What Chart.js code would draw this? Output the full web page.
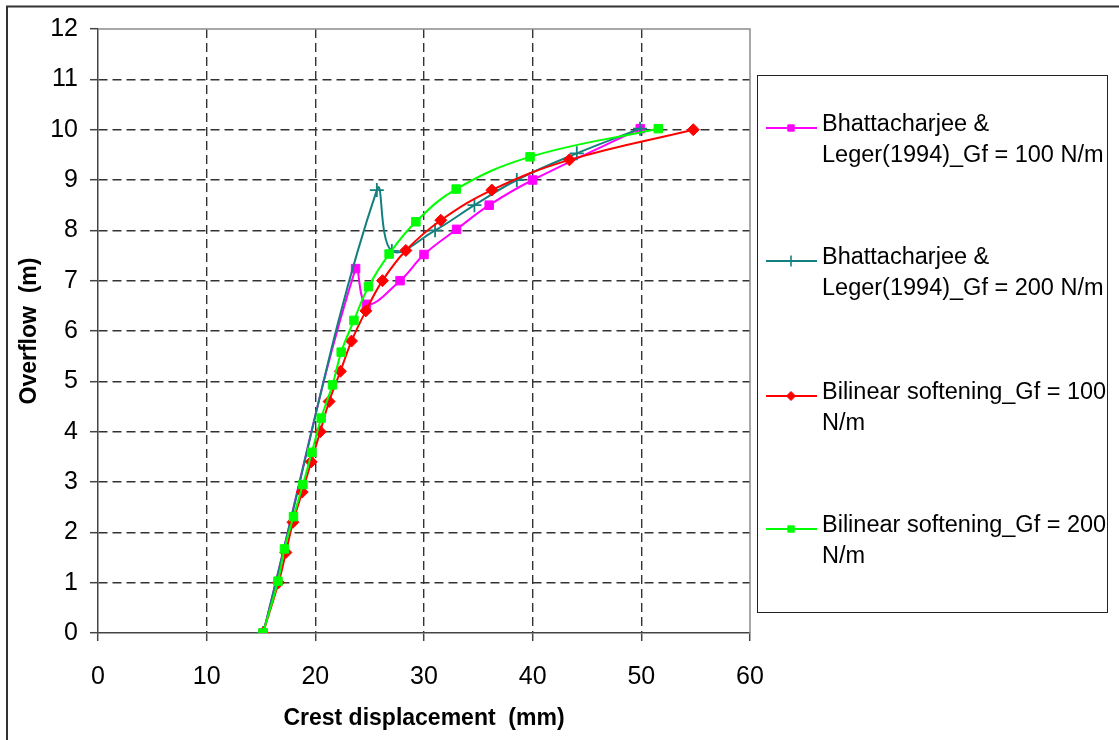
<!DOCTYPE html>
<html>
<head>
<meta charset="utf-8">
<script src="https://cdn.jsdelivr.net/npm/chart.js@4/dist/chart.umd.min.js"></script>
<style>
  html, body { margin: 0; padding: 0; background: #fff; }
  #wrap { width: 1119px; height: 740px; position: relative; }
</style>
</head>
<body>
<div id="wrap"><canvas id="c" width="1119" height="740"></canvas></div>
<script>
// ---- Data ----
const xTicks = [0, 10, 20, 30, 40, 50, 60];
const yTicks = [0, 1, 2, 3, 4, 5, 6, 7, 8, 9, 10, 11, 12];

const seriesLabels = [
  "Bhattacharjee &\nLeger(1994)_Gf = 100 N/m",
  "Bhattacharjee &\nLeger(1994)_Gf = 200 N/m",
  "Bilinear softening_Gf = 100\nN/m",
  "Bilinear softening_Gf = 200\nN/m"
];

const bh100X = [15.2, 23.7, 24.7, 27.8, 30.0, 33.0, 36.0, 40.0, 49.9];
const bh100Y = [0, 7.24, 6.53, 7.0, 7.52, 8.02, 8.5, 9.0, 10.02];

const bh200X = [15.2, 25.66, 27.04, 31.02, 34.64, 38.54, 44.06, 49.88];
const bh200Y = [0, 8.8, 7.59, 8.0, 8.5, 9.0, 9.53, 10.02];

const bil100X = [15.18, 16.61, 17.29, 17.94, 18.79, 19.62, 20.45, 21.27, 22.31, 23.33, 24.65, 26.18, 28.33, 31.55, 36.24, 43.38, 54.78];
const bil100Y = [0, 1.0, 1.6, 2.2, 2.8, 3.4, 4.0, 4.6, 5.2, 5.8, 6.4, 7.0, 7.6, 8.2, 8.8, 9.4, 10.0];

const bil200X = [15.18, 16.56, 17.16, 17.99, 18.86, 19.68, 20.54, 21.58, 22.38, 23.55, 24.89, 26.79, 29.25, 32.96, 39.76, 51.56];
const bil200Y = [0, 1.03, 1.67, 2.31, 2.95, 3.59, 4.27, 4.93, 5.58, 6.21, 6.88, 7.53, 8.17, 8.82, 9.46, 10.02];

const xTitle = "Crest displacement  (mm)";
const yTitle = "Overflow  (m)";

// ---- Build ----
const pts = (xs, ys) => xs.map((x, i) => ({ x: x, y: ys[i] }));
const FONT = "'Liberation Sans', Arial, 'DejaVu Sans', sans-serif";

const styles = [
  { color: '#FF00FF', pointStyle: 'rect', radius: 6, order: 4, lsRadius: 4.5 },
  { color: '#13807F', pointStyle: 'cross', radius: 7, order: 3, lsRadius: 5.5 },
  { color: '#FF0000', pointStyle: 'rectRot', radius: 6, order: 2, lsRadius: 4.5 },
  { color: '#00FF00', pointStyle: 'rect', radius: 6, order: 1, lsRadius: 4.5 }
];
const seriesData = [pts(bh100X, bh100Y), pts(bh200X, bh200Y), pts(bil100X, bil100Y), pts(bil200X, bil200Y)];

const datasets = seriesData.map((d, i) => ({
  label: seriesLabels[i],
  data: d,
  showLine: true,
  borderColor: styles[i].color,
  backgroundColor: styles[i].color,
  borderWidth: 2,
  tension: 0.4,
  pointStyle: styles[i].pointStyle,
  pointRadius: styles[i].radius,
  pointBorderWidth: i === 1 ? 1.8 : 1,
  pointBorderColor: styles[i].color,
  pointBackgroundColor: styles[i].color,
  order: styles[i].order,
  fill: false
}));

const bgPlugin = {
  id: 'bg',
  beforeDraw(chart) {
    const ctx = chart.ctx;
    ctx.save();
    ctx.fillStyle = '#fff';
    ctx.fillRect(0, 0, chart.width, chart.height);
    ctx.restore();
  },
  afterDraw(chart) {
    const ctx = chart.ctx;
    const a = chart.chartArea;
    ctx.save();
    ctx.setLineDash([]);
    // plot area top/right border
    ctx.strokeStyle = '#8c8c8c';
    ctx.lineWidth = 1.5;
    ctx.beginPath();
    ctx.moveTo(a.left, a.top);
    ctx.lineTo(a.right, a.top);
    ctx.lineTo(a.right, a.bottom);
    ctx.stroke();
    // outer chart border (top and left visible)
    ctx.strokeStyle = '#333';
    ctx.lineWidth = 2;
    ctx.beginPath();
    ctx.moveTo(7, chart.height);
    ctx.lineTo(7, 6.5);
    ctx.lineTo(chart.width, 6.5);
    ctx.stroke();
    // legend box
    const lx = 757.5, ly = 75.5, lw = 350, lh = 537;
    ctx.strokeStyle = '#222';
    ctx.lineWidth = 1;
    ctx.strokeRect(lx, ly, lw, lh);
    const entryY = [125, 258, 393, 526];
    ctx.font = "23.5px " + FONT;
    ctx.textBaseline = 'middle';
    ctx.textAlign = 'left';
    chart.data.datasets.forEach((ds, i) => {
      const y0 = entryY[i];
      const my = y0 + 3;
      ctx.strokeStyle = ds.borderColor;
      ctx.lineWidth = 2;
      ctx.beginPath();
      ctx.moveTo(766, my);
      ctx.lineTo(817, my);
      ctx.stroke();
      ctx.fillStyle = ds.borderColor;
      ctx.strokeStyle = ds.borderColor;
      ctx.lineWidth = i === 1 ? 1.6 : 1;
      Chart.helpers.drawPoint(ctx, {
        pointStyle: ds.pointStyle,
        radius: styles[i].lsRadius,
        borderWidth: i === 1 ? 1.6 : 1,
        rotation: 0
      }, 791, my);
      ctx.fillStyle = '#000';
      const lines = ds.label.split('\n');
      lines.forEach((t, k) => ctx.fillText(t, 822, y0 + k * 31));
    });
    ctx.restore();
  }
};

const gridColor = (edgeA, edgeB) => (c) =>
  (c.tick && (c.tick.value === edgeA || c.tick.value === edgeB)) ? 'rgba(0,0,0,0)' : '#333';

const chart = new Chart(document.getElementById('c'), {
  type: 'scatter',
  data: { datasets: datasets },
  options: {
    responsive: false,
    animation: false,
    devicePixelRatio: 1,
    layout: { padding: { left: 0, top: 29, right: 369, bottom: 0 } },
    plugins: {
      legend: { display: false },
      tooltip: { enabled: false }
    },
    scales: {
      x: {
        type: 'linear',
        min: 0, max: 60,
        afterBuildTicks: (s) => { s.ticks = xTicks.map(v => ({ value: v })); },
        afterFit: (s) => { s.height = 107; },
        ticks: {
          font: { family: FONT, size: 25 },
          color: '#000',
          padding: 21,
          maxRotation: 0
        },
        grid: {
          color: gridColor(0, 60),
          lineWidth: 1.4,
          tickLength: 8,
          tickColor: '#444',
          tickWidth: 1.5,
          tickBorderDash: [],
          drawTicks: true
        },
        border: { display: true, color: '#444', width: 1.5, dash: [9, 5] },
        title: {
          display: true,
          text: xTitle,
          font: { family: FONT, size: 23, weight: 'bold' },
          color: '#000',
          padding: { top: 0, bottom: 8 }
        }
      },
      y: {
        type: 'linear',
        min: 0, max: 12,
        afterBuildTicks: (s) => { s.ticks = yTicks.map(v => ({ value: v })); },
        afterFit: (s) => { s.width = 98; },
        ticks: {
          font: { family: FONT, size: 25 },
          color: '#000',
          padding: 12
        },
        grid: {
          color: gridColor(0, 12),
          lineWidth: 1.4,
          tickLength: 8,
          tickColor: '#444',
          tickWidth: 1.5,
          tickBorderDash: [],
          drawTicks: true
        },
        border: { display: true, color: '#444', width: 1.5, dash: [9, 5] },
        title: {
          display: true,
          text: yTitle,
          font: { family: FONT, size: 23, weight: 'bold' },
          color: '#000',
          padding: { top: 16, bottom: 0 }
        }
      }
    }
  },
  plugins: [bgPlugin]
});
</script>
</body>
</html>
